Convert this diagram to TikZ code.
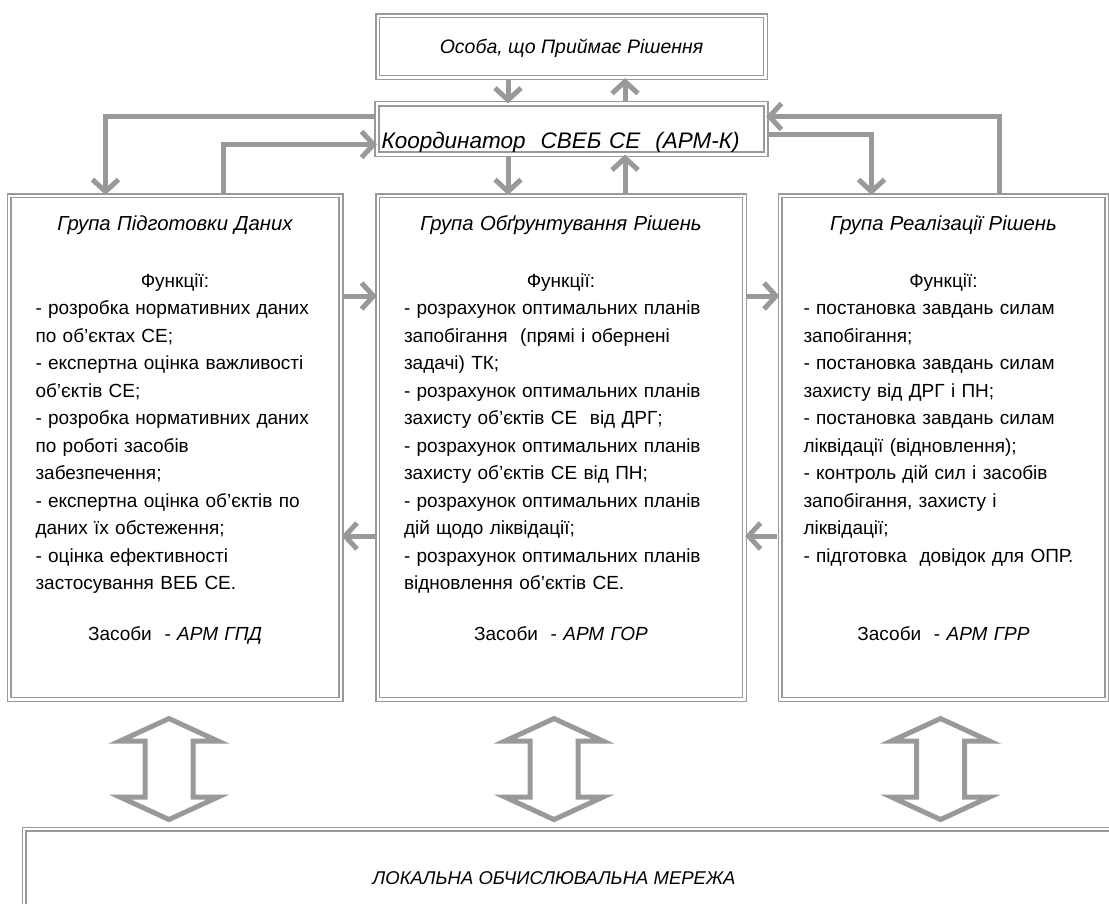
\documentclass[tikz,border=0pt]{standalone}
\usepackage{fontspec}
\setmainfont{Liberation Sans}
\usetikzlibrary{positioning,arrows.meta,calc}
\definecolor{lgray}{RGB}{153,153,153}
\setlength\parindent{0pt}
\setlength\parskip{0pt}
\newcommand\grptitle[1]{{\centering\fontsize{20.3}{27.5}\selectfont\itshape #1\par}}

\begin{document}
\begin{tikzpicture}[x=1pt, y=-1pt, font=\fontsize{19}{27.5}\selectfont]
        \tikzset{frame/.style = {draw = lgray, fill = white,
            double = white, line width = 1.5pt, double distance = 2.4pt,
            inner sep = 0pt},
          ital/.style = {font = \fontsize{#1}{23}\selectfont\itshape},
          hdr/.style  = {frame, minimum width = 387.6pt},
          grp/.style  = {frame, minimum height = 503.6pt},
          grptxt/.style = {inner sep = 0pt, text width = #1, text height = 14.5pt},
          link/.style = {draw = lgray, line width = 5pt, shorten < = 2pt,
            -{Straight Barb[length = 12pt, width = 26pt]}},
          bigarrow/.style = {draw = lgray, fill = white, line width = 5pt, line join = miter}}
        \useasboundingbox (0,0) rectangle (1109,903);
        \node[hdr, ital = 19.5, minimum height = 61.6pt, text depth = 1pt] (opr) at (571.5,46.5)
          {Особа, що Приймає Рішення};
        \node[hdr, ital = 22.5, minimum height = 49.6pt, below = 25.4pt of opr, text width = 380pt,
          align = left, text height = 38pt, text depth = 0pt] (coord)
          {Координатор\ \ СВЕБ СЕ\ \ (АРМ-К)};
        \draw[frame, fill = none] (coord.south west) rectangle (coord.north east);
        \node[grp, minimum width = 366.6pt, below = 40.4pt of coord.south west, anchor = north west] (g2) {};
        \node[grp, minimum width = 331.6pt, left = 35.4pt of g2] (g1) {};
        \node[grp, minimum width = 326.6pt, right = 34.4pt of g2] (g3) {};
        \node[frame, minimum width = 1300pt, minimum height = 300pt,
          below right = 128.4pt and 15pt of g1.south west] (lan) {};
        \node[grptxt = 279pt, below = 21pt of g1.north] (g1txt) {%
          \grptitle{Група Підготовки Даних}
          \vspace{29pt}
          {\centering Функції:\par}
          \begin{tabular}[t]{@{}l@{}}
            - розробка нормативних даних\\
            по об’єктах СЕ;\\
            - експертна оцінка важливості\\
            об’єктів СЕ;\\
            - розробка нормативних даних\\
            по роботі засобів\\
            забезпечення;\\
            - експертна оцінка об’єктів по\\
            даних їх обстеження;\\
            - оцінка ефективності\\
            застосування ВЕБ СЕ.
          \end{tabular}\par
          \vspace{27.5pt}
          {\centering Засоби\ \ - \textit{АРМ ГПД}\par}};
        \node[grptxt = 314pt, below = 21pt of g2.north] (g2txt) {%
          \grptitle{Група Обґрунтування Рішень}
          \vspace{29pt}
          {\centering Функції:\par}
          \begin{tabular}[t]{@{}l@{}}
            - розрахунок оптимальних планів\\
            запобігання\ \ (прямі і обернені\\
            задачі) ТК;\\
            - розрахунок оптимальних планів\\
            захисту об’єктів СЕ\ \ від ДРГ;\\
            - розрахунок оптимальних планів\\
            захисту об’єктів СЕ від ПН;\\
            - розрахунок оптимальних планів\\
            дій щодо ліквідації;\\
            - розрахунок оптимальних планів\\
            відновлення об’єктів СЕ.
          \end{tabular}\par
          \vspace{27.5pt}
          {\centering Засоби\ \ - \textit{АРМ ГОР}\par}};
        \node[grptxt = 280pt, below = 21pt of g3.north] (g3txt) {%
          \grptitle{Група Реалізації Рішень}
          \vspace{29pt}
          {\centering Функції:\par}
          \begin{tabular}[t]{@{}l@{}}
            - постановка завдань силам\\
            запобігання;\\
            - постановка завдань силам\\
            захисту від ДРГ і ПН;\\
            - постановка завдань силам\\
            ліквідації (відновлення);\\
            - контроль дій сил і засобів\\
            запобігання, захисту і\\
            ліквідації;\\
            - підготовка\ \ довідок для ОПР.
          \end{tabular}\par
          \vspace{55pt}
          {\centering Засоби\ \ - \textit{АРМ ГРР}\par}};
        \draw[link] ([xshift = -63.5pt]opr.south) -- ([xshift = -63.5pt]coord.north);
        \draw[link] ([xshift = 53.5pt]coord.north) -- ([xshift = 53.5pt]opr.south);
        \draw[link] ([xshift = -63.5pt]coord.south) -- ([xshift = -63.5pt]coord.south |- g2.north);
        \draw[link] ([xshift = 53.5pt]coord.south |- g2.north) -- ([xshift = 53.5pt]coord.south);
        \draw[link] ([yshift = 12.5pt]coord.west) -| ([xshift = -69.5pt]g1.north);
        \draw[link] ([xshift = 48.5pt]g1.north) |- ([yshift = -15.5pt]coord.west);
        \draw[link] ([yshift = -5.5pt]coord.east) -| ([xshift = -72pt]g3.north);
        \draw[link] ([xshift = 56pt]g3.north) |- ([yshift = 12.5pt]coord.east);
        \draw[link] ([yshift = 151.5pt]g1.east) -- ([yshift = 151.5pt]g2.west);
        \draw[link] ([yshift = 151.5pt]g2.east) -- ([yshift = 151.5pt]g3.west);
        \draw[link] ([yshift = -88.5pt]g3.west) -- ([yshift = -88.5pt]g2.east);
        \draw[link] ([yshift = -88.5pt]g2.west) -- ([yshift = -88.5pt]g1.east);
        \coordinate (a1) at ($(g1.south)+(-6,69)$);
        \coordinate (a2) at ($(g2.south)+(-7,69)$);
        \coordinate (a3) at ($(g3.south)+(-3,69)$);
        \foreach \a in {a1,a2,a3}
          \draw[bigarrow] (\a) ++(0,-50.5) -- ++(49,22.5) -- ++(-25,0) -- ++(0,56)
            -- ++(25,0) -- ++(-49,22.5) -- ++(-49,-22.5) -- ++(25,0) -- ++(0,-56)
            -- ++(-25,0) -- cycle;
        \node[ital = 18.5, anchor = base] (lantxt) at ($(a2)+(0,115)$) {ЛОКАЛЬНА ОБЧИСЛЮВАЛЬНА МЕРЕЖА};
      \end{tikzpicture}
\end{document}
